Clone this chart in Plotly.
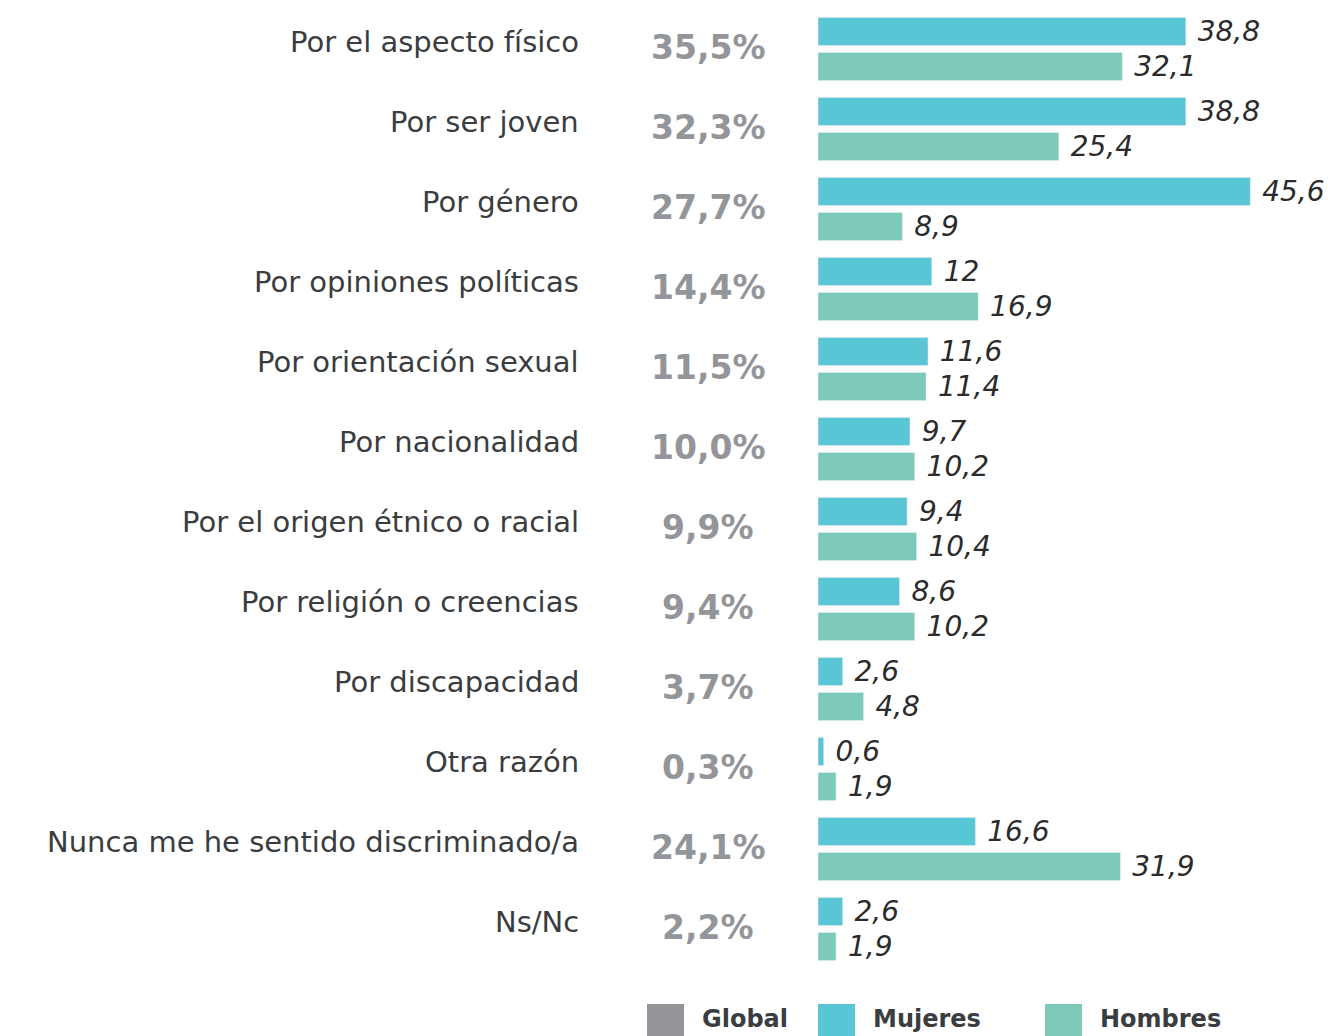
import plotly.graph_objects as go

categories = [
    "Por el aspecto físico",
    "Por ser joven",
    "Por género",
    "Por opiniones políticas",
    "Por orientación sexual",
    "Por nacionalidad",
    "Por el origen étnico o racial",
    "Por religión o creencias",
    "Por discapacidad",
    "Otra razón",
    "Nunca me he sentido discriminado/a",
    "Ns/Nc",
]
global_pct = [35.5, 32.3, 27.7, 14.4, 11.5, 10.0, 9.9, 9.4, 3.7, 0.3, 24.1, 2.2]
mujeres = [38.8, 38.8, 45.6, 12, 11.6, 9.7, 9.4, 8.6, 2.6, 0.6, 16.6, 2.6]
hombres = [32.1, 25.4, 8.9, 16.9, 11.4, 10.2, 10.4, 10.2, 4.8, 1.9, 31.9, 1.9]

C_GLOBAL = "#939598"
C_MUJERES = "#59C6D5"
C_HOMBRES = "#7ECAB8"
TEXT = "#3a3d40"
FONT = "DejaVu Sans"

W, H = 1328, 1036
ML, MR, MT, MB = 818, 36, 9, 67
PW = W - ML - MR
PH = H - MT - MB


def fmt(v):
    return f"{v:g}".replace(".", ",")


def px_x(x):
    return (x - ML) / PW


def px_y(y):
    return (H - MB - y) / PH


fig = go.Figure()

for name, vals, color in [("Mujeres", mujeres, C_MUJERES), ("Hombres", hombres, C_HOMBRES)]:
    fig.add_trace(
        go.Bar(
            y=categories,
            x=vals,
            name=name,
            orientation="h",
            marker_color=color,
            text=["\u00a0" + fmt(v) for v in vals],
            textposition="outside",
            constraintext="none",
            textfont=dict(family=FONT, size=28, color="#2b2b2b", style="italic"),
            cliponaxis=False,
            showlegend=False,
        )
    )

annotations = []
for cat, g in zip(categories, global_pct):
    annotations.append(dict(
        x=px_x(581), xref="paper", y=cat, yref="y",
        text=cat, showarrow=False, xanchor="right", yshift=7,
        font=dict(family=FONT, size=29, color=TEXT),
    ))
    annotations.append(dict(
        x=px_x(708), xref="paper", y=cat, yref="y",
        text=f"{g:.1f}%".replace(".", ","), showarrow=False, xanchor="center", yshift=2,
        font=dict(family=FONT, size=33, color=C_GLOBAL, weight="bold"),
    ))

# custom legend
shapes = []
legend_items = [("Global", C_GLOBAL, 647), ("Mujeres", C_MUJERES, 818), ("Hombres", C_HOMBRES, 1045)]
for label, color, x0 in legend_items:
    shapes.append(dict(
        type="rect", xref="paper", yref="paper",
        x0=px_x(x0), x1=px_x(x0 + 37), y0=px_y(1040), y1=px_y(1004),
        fillcolor=color, line_width=0,
    ))
    annotations.append(dict(
        x=px_x(x0 + 53), xref="paper", y=px_y(1019), yref="paper",
        text=label, showarrow=False, xanchor="left", yanchor="middle",
        font=dict(family=FONT, size=24, color=TEXT, weight="bold"),
    ))

fig.update_layout(
    width=W, height=H,
    margin=dict(l=ML, r=MR, t=MT, b=MB),
    barmode="group",
    bargap=0.125,
    bargroupgap=0.2,
    plot_bgcolor="white",
    paper_bgcolor="white",
    xaxis=dict(range=[0, 50], visible=False),
    yaxis=dict(autorange="reversed", showticklabels=False, showgrid=False, zeroline=False),
    annotations=annotations,
    shapes=shapes,
)

fig.write_html("out.html", config={"displayModeBar": False},
               post_script="document.body.style.margin='0';")
